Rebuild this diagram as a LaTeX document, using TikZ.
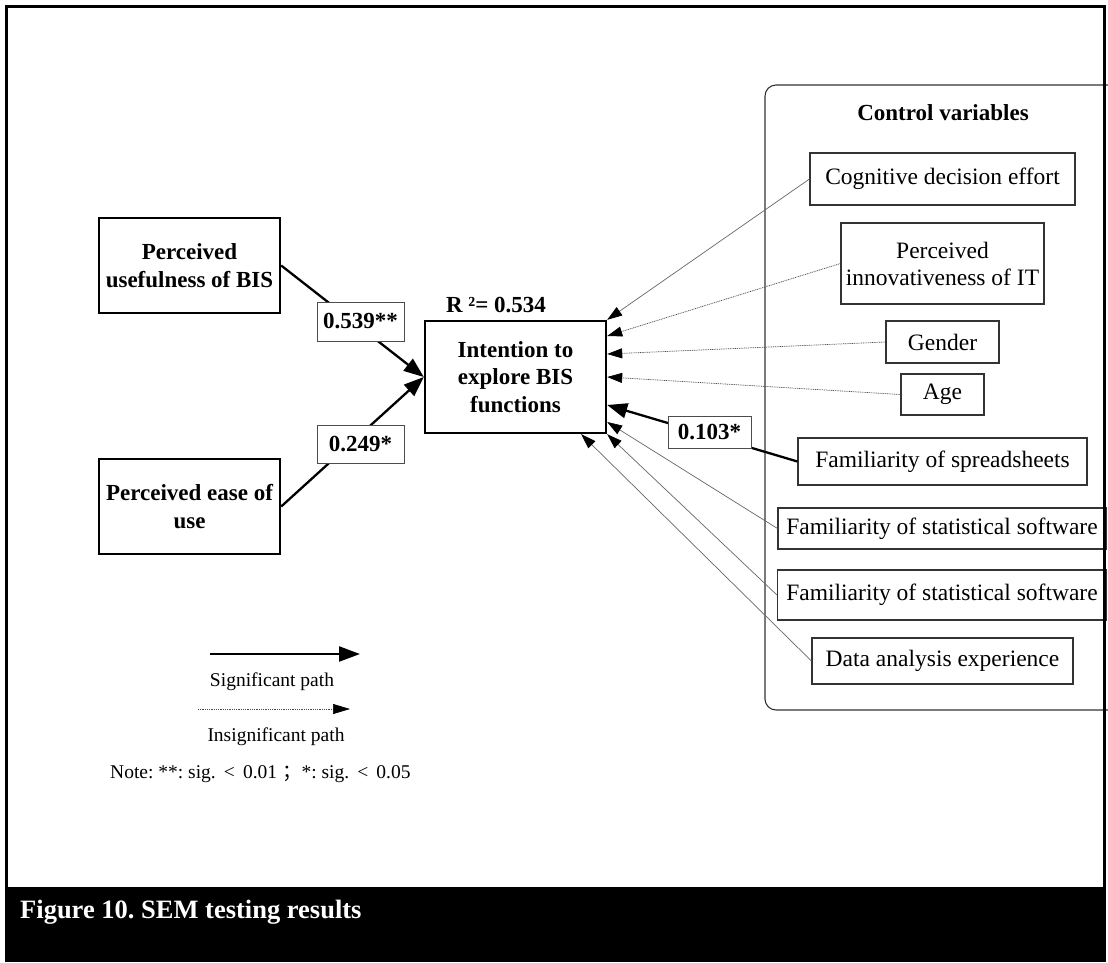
\documentclass[tikz,border=0pt]{standalone}
\usepackage{fontspec}
\setmainfont{Liberation Serif}
\newfontfamily\cjk{Noto Sans CJK SC}
\usetikzlibrary{arrows.meta}
\frenchspacing

\begin{document}
\begin{tikzpicture}[x=1pt,y=1pt,
  mainbox/.style={draw, line width=2.4pt, align=center, inner sep=0pt,
    font=\fontsize{23}{27.5}\selectfont\bfseries},
  ctrlbox/.style={draw=black!80, line width=1.1pt, align=center, inner sep=0pt,
    font=\fontsize{23.5}{27}\selectfont},
  coef/.style={draw=black!70, line width=1pt, fill=white, inner sep=0pt,
    font=\fontsize{23}{27}\selectfont\bfseries},
  sigpath/.style={line width=2.3pt, -{Triangle[length=20pt,width=15pt]}},
  insigpath/.style={line width=0.7pt, draw=black!70, dash pattern=on 1pt off 0.8pt,
    -{Triangle[length=15pt,width=10pt,color=black]}},
  thinpath/.style={line width=0.7pt, draw=black!60,
    -{Triangle[length=15pt,width=10pt,color=black]}},
  legendtext/.style={font=\fontsize{19.5}{23}\selectfont, inner sep=0pt},
]
\useasboundingbox (0,0) rectangle (1108,-962);

% control-variable container (right side runs under the frame)
\draw[black!80, line width=1.1pt, rounded corners=11pt]
  (1110,-85) -- (765,-85) -- (765,-710) -- (1110,-710);
\node[font=\fontsize{23}{27}\selectfont\bfseries] (ctitle) at (943,-113) {Control variables};

% constructs
\node[mainbox, minimum width=181pt, minimum height=95pt] (pu) at (189.5,-265.5)
  {Perceived\\usefulness of BIS};
\node[mainbox, minimum width=181pt, minimum height=95pt] (pe) at (189.5,-506.5)
  {Perceived ease of\\use};
\node[mainbox, minimum width=181pt, minimum height=112pt] (main) at (515.5,-377)
  {Intention to\\explore BIS\\functions};
\node[font=\fontsize{23}{27}\selectfont\bfseries] (rsq) at (496,-305) {R ²= 0.534};

% control variables
\node[ctrlbox, minimum width=265pt, minimum height=52pt] (cog) at (942.5,-179)
  {Cognitive decision effort};
\node[ctrlbox, minimum width=203pt, minimum height=81pt] (innov) at (942.5,-263.5)
  {Perceived\\innovativeness of IT};
\node[ctrlbox, minimum width=113pt, minimum height=42pt] (gender) at (942.5,-342)
  {Gender};
\node[ctrlbox, minimum width=83pt, minimum height=41pt] (age) at (942.5,-394.5)
  {Age};
\node[ctrlbox, minimum width=289pt, minimum height=47pt] (spread) at (942.5,-461.5)
  {Familiarity of spreadsheets};
\node[ctrlbox, minimum width=328pt, minimum height=41pt] (stat1) at (942,-528.5)
  {Familiarity of statistical software};
\node[ctrlbox, minimum width=329pt, minimum height=50pt] (stat2) at (942,-595)
  {Familiarity of statistical software};
\node[ctrlbox, minimum width=261pt, minimum height=46pt] (data) at (942.5,-661)
  {Data analysis experience};

% paths
\draw[sigpath] (pu.east) -- (main.west);
\draw[sigpath] (pe.east) -- (main.west);
\draw[thinpath] (cog.west) -- (main.north east);
\draw[insigpath] (innov.west) -- ([yshift=41pt]main.east);
\draw[insigpath] (gender.west) -- ([yshift=23pt]main.east);
\draw[insigpath] (age.west) -- (main.east);
\draw[sigpath] (spread.west) -- ([yshift=-28pt]main.east);
\draw[thinpath] (stat1.west) -- ([yshift=-45pt]main.east);
\draw[thinpath] (stat2.west) -- (main.south east);
\draw[thinpath] (data.west) -- ([xshift=-26pt]main.south east);

% path coefficients
\node[coef, minimum width=87pt, minimum height=39pt] (c1) at (360.5,-321.5) {0.539**};
\node[coef, minimum width=87pt, minimum height=38pt] (c2) at (360.5,-444) {0.249*};
\node[coef, minimum width=83pt, minimum height=32pt] (c3) at (709.5,-432) {0.103*};

% legend
\coordinate (s0) at (210,-654);
\coordinate (s1) at (360,-654);
\coordinate (i0) at (198,-709);
\coordinate (i1) at (350,-709);
\draw[line width=2.3pt, -{Triangle[length=21pt,width=15pt]}] (s0) -- (s1);
\draw[line width=0.7pt, draw=black!70, dash pattern=on 1pt off 0.8pt,
  -{Triangle[length=17pt,width=10pt,color=black]}] (i0) -- (i1);
\node[legendtext] (lsig) at (272,-682) {Significant path};
\node[legendtext] (linsig) at (276,-737) {Insignificant path};
\node[legendtext, anchor=west] (note) at (110,-774)
  {Note: **: sig. \,<\, 0.01 {\cjk ；}*: sig. \,<\, 0.05};

% frame and caption band
\draw[line width=3.6pt] (6.5,-962) -- (6.5,-6.5) -- (1104.3,-6.5) -- (1104.3,-962);
\fill[black] (4.7,-887) rectangle (1106.1,-962);
\node[anchor=base west, inner sep=0pt, text=white,
  font=\fontsize{26.5}{30}\selectfont\bfseries] (cap) at (20,-918)
  {Figure 10. SEM testing results};
\end{tikzpicture}
\end{document}
